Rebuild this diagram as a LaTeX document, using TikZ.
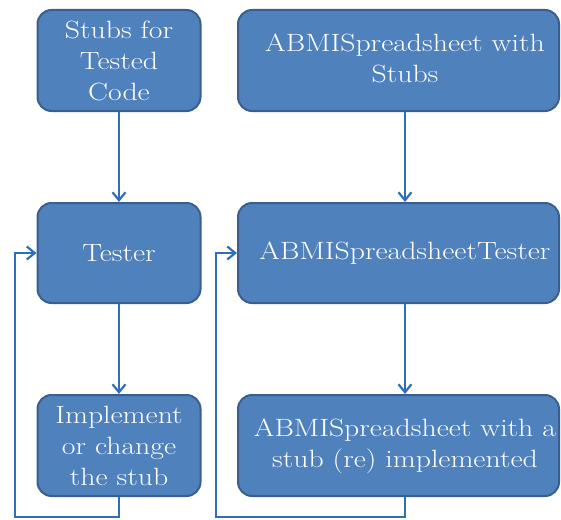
\documentclass[tikz,border=0pt]{standalone}
\usepackage{fontspec}
\setmainfont{Latin Modern Roman}[FakeStretch=1.19]
\usetikzlibrary{arrows.meta}
\definecolor{boxfill}{HTML}{4F81BD}
\definecolor{boxline}{HTML}{3A5F8E}
\definecolor{arrowc}{HTML}{2F6EBA}
\newcommand\rtxt[1]{\hspace*{13pt}\begin{tabular}{@{}c@{}}#1\end{tabular}}
\begin{document}
\begin{tikzpicture}[x=1pt,y=1pt,
  boxnode/.style={draw=boxline, line width=2pt, fill=boxfill, rounded corners=14pt,
    text=white, align=center, inner sep=0pt,
    font=\fontsize{25}{31}\selectfont},
  conn/.style={draw=arrowc, line width=2.2pt, -{Straight Barb[length=8pt,width=13pt,line width=2.2pt]}}
]
\useasboundingbox (0,0) rectangle (561,-519);
\node[boxnode, minimum width=163pt, minimum height=101pt] (l1) at (119,-60.5) {Stubs for\\Tested\\Code};
\node[boxnode, minimum width=163pt, minimum height=100pt] (l2) at (119,-253) {Tester};
\node[boxnode, minimum width=163pt, minimum height=101pt] (l3) at (119,-445.5) {Implement\\or change\\the stub};
\node[boxnode, minimum width=321pt, minimum height=101pt] (r1) at (398.5,-60.5) {\rtxt{ABMISpreadsheet with\\Stubs}};
\node[boxnode, minimum width=321pt, minimum height=100pt] (r2) at (398.5,-253) {\rtxt{ABMISpreadsheetTester}};
\node[boxnode, minimum width=321pt, minimum height=101pt] (r3) at (398.5,-445.5) {\rtxt{ABMISpreadsheet with a\\stub (re) implemented}};
\coordinate (lb) at (119,-517);
\coordinate (lc) at (15,-517);
\coordinate (rb) at (405,-517);
\coordinate (rc) at (216,-517);
\draw[conn] (l1.south) -- (l2.north);
\draw[conn] (l2.south) -- (l3.north);
\draw[conn] ([xshift=6.5pt]r1.south) -- ([xshift=6.5pt]r2.north);
\draw[conn] ([xshift=6.5pt]r2.south) -- ([xshift=6.5pt]r3.north);
\draw[conn] (l3.south) -- (lb) -- (lc) |- (l2.west);
\draw[conn] ([xshift=6.5pt]r3.south) -- (rb) -- (rc) |- (r2.west);
\end{tikzpicture}
\end{document}
